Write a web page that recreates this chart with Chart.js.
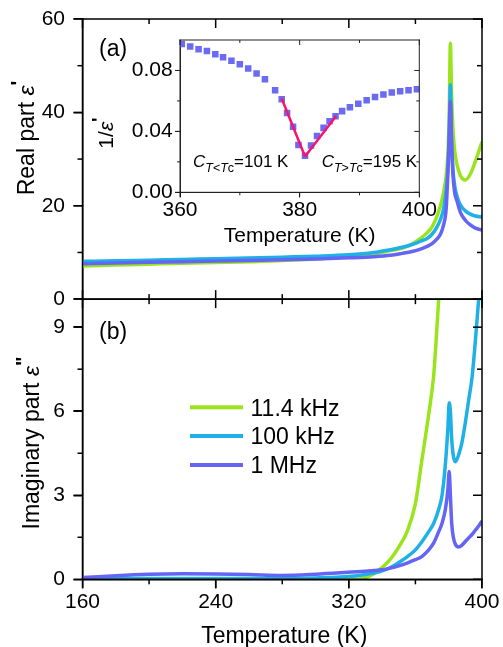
<!DOCTYPE html>
<html>
<head>
<meta charset="utf-8">
<script src="https://cdn.jsdelivr.net/npm/chart.js@4.4.1/dist/chart.umd.min.js"></script>
<style>
  html, body { margin: 0; padding: 0; background: #fff; }
  #wrap { position: relative; width: 503px; height: 647px; }
  #main { position: absolute; left: 0; top: 0; }
  #inset { position: absolute; left: 80px; top: 30px; }
</style>
</head>
<body>
<div id="wrap">
  <canvas id="main" width="503" height="647"></canvas>
  <canvas id="inset" width="360" height="225"></canvas>
</div>
<script>
const FONT = '"Liberation Sans", Arial, sans-serif';

// series
const seriesLabels = ["11.4 kHz", "100 kHz", "1 MHz"];
const seriesColors = ["#9ae41e", "#1eb0e6", "#6464f5"];

// real part (top panel)
const tempReal = [160, 180, 200, 220, 240, 260, 280, 300, 320, 335, 345, 352, 358, 363, 367, 370,
  373, 375, 377, 378.5, 379.5, 380.3, 381, 381.7, 382.5, 383.5, 385, 387, 390, 393, 396, 400];
const realLow = [7.1, 7.3, 7.5, 7.7, 7.85, 8.0, 8.3, 8.6, 9.2, 9.7, 10.4, 10.9, 11.8, 13.0, 14.2, 15.5,
  17.8, 20.0, 23.0, 26.5, 31.0, 40.0, 54.8, 44.0, 37.0, 32.0, 28.8, 26.5, 25.5, 26.8, 29.5, 33.7];
const realMid = [8.1, 8.2, 8.35, 8.5, 8.65, 8.8, 9.0, 9.2, 9.5, 10.0, 10.6, 11.1, 11.7, 12.4, 13.0, 13.9,
  15.5, 17.0, 19.5, 23.5, 28.0, 35.0, 45.9, 34.0, 28.0, 24.5, 22.0, 20.2, 18.9, 18.2, 17.8, 17.6];
const realHigh = [7.6, 7.75, 7.9, 8.0, 8.15, 8.3, 8.45, 8.6, 8.85, 9.1, 9.4, 9.8, 10.2, 10.7, 11.3, 11.9,
  12.9, 13.9, 16.0, 19.5, 27.0, 35.0, 42.3, 34.0, 27.0, 23.0, 21.0, 18.6, 16.9, 15.9, 15.2, 14.8];

// imaginary part (bottom panel)
const tempImag = [160, 180, 200, 220, 240, 260, 280, 300, 315, 325, 330, 335, 340, 345, 350, 355,
  360, 364, 368, 371, 374, 376, 378, 379.5, 380.3, 381, 381.8, 382.8, 384, 386, 388, 390,
  392, 394, 396, 398, 400];
const imagLow = [0, 0, 0, 0, 0, 0, 0, 0, 0, 0, 0.06, 0.2, 0.42, 0.72, 1.15, 1.7,
  2.7, 4.3, 5.9, 7.3, 10.0, null, null, null, null, null, null, null, null, null, null, null,
  null, null, null, null, null];
const imagMid = [0.02, 0.03, 0.03, 0.03, 0.03, 0.03, 0.03, 0.05, 0.08, 0.13, 0.17, 0.22, 0.3, 0.42, 0.6, 0.8,
  1.05, 1.35, 1.7, 2.0, 2.5, 3.0, 4.1, 5.4, 6.3, 6.0, 5.0, 4.4, 4.2, 4.45, 4.9, 5.6,
  6.4, 7.2, 8.5, 10.0, null];
const imagHigh = [0.06, 0.13, 0.18, 0.2, 0.19, 0.17, 0.14, 0.18, 0.23, 0.27, 0.29, 0.31, 0.34, 0.4, 0.48, 0.58,
  0.7, 0.82, 1.05, 1.3, 1.7, 2.0, 2.5, 3.2, 3.85, 3.0, 2.0, 1.5, 1.25, 1.15, 1.22, 1.35,
  1.48, 1.6, 1.75, 1.9, 2.08];

// inset: 1/eps' of 1 MHz and Curie-Weiss fits
const insetTemps = [360.3, 361.7, 363.1, 364.5, 365.9, 367.2, 368.6, 370.0, 371.4, 372.8, 374.2, 375.9,
  377.0, 377.9, 378.9, 379.8, 380.9, 381.9, 382.9, 384.0, 385.0, 386.0, 387.1, 388.4, 389.8, 391.2,
  392.6, 394.0, 395.4, 396.8, 398.2, 399.6];
const insetInv = [0.0973, 0.0957, 0.0940, 0.0927, 0.0907, 0.0886, 0.0863, 0.0840, 0.0813, 0.0780, 0.0743, 0.0670,
  0.0611, 0.0520, 0.0430, 0.0310, 0.0240, 0.0308, 0.0370, 0.0423, 0.0467, 0.0500, 0.0533, 0.0558, 0.0582, 0.0604,
  0.0626, 0.0642, 0.0655, 0.0664, 0.0670, 0.0677];
const fitBelowT = [377.0, 380.9];
const fitBelowV = [0.0616, 0.0235];
const fitAboveT = [380.9, 386.1];
const fitAboveV = [0.0235, 0.0501];

// ticks
const xTicks = [160, 240, 320, 400];
const xMinor = [200, 280, 360];
const yTopTicks = [0, 20, 40, 60];
const yTopMinor = [10, 30, 50];
const yBotTicks = [0, 3, 6, 9];
const yBotMinor = [1.5, 4.5, 7.5];
const insetXTicks = [360, 380, 400];
const insetXMinor = [370, 390];
const insetYTicks = [0, 0.04, 0.08];
const insetYMinor = [0.02, 0.06];

function pts(tx, vy) {
  return tx.map((t, i) => ({ x: t, y: vy[i] })).filter(d => d.y !== null);
}

function fixedTicks(values) {
  return scale => { scale.ticks = values.map(v => ({ value: v })); };
}

// fixed axis size, no extra label overflow padding
function fixSize(w, h) {
  return s => {
    if (w !== null) s.width = w;
    if (h !== null) s.height = h;
    s.paddingTop = 0; s.paddingBottom = 0; s.paddingLeft = 0; s.paddingRight = 0;
  };
}

// segs: [text, font, dy]
function drawRich(ctx, segs, x, y, rotated) {
  let total = 0;
  segs.forEach(s => { ctx.font = s[1]; total += ctx.measureText(s[0]).width; });
  ctx.save();
  ctx.translate(x, y);
  if (rotated) ctx.rotate(-Math.PI / 2);
  let cx = rotated ? -total / 2 : 0;
  ctx.textBaseline = 'alphabetic';
  ctx.textAlign = 'left';
  ctx.fillStyle = '#000';
  segs.forEach(s => {
    ctx.font = s[1];
    ctx.fillText(s[0], cx, s[2] || 0);
    cx += ctx.measureText(s[0]).width;
  });
  ctx.restore();
}

// box around one panel with inward ticks on top/right, outward on left (and bottom if asked)
function drawPanel(ctx, xScale, yScale, xs, xm, ys, ym, big, small, lw, bottomOut) {
  const left = xScale.left, right = xScale.right, top = yScale.top, bottom = yScale.bottom;
  const h = lw / 2;
  ctx.fillRect(left - h, top - h, right - left + lw, lw);
  ctx.fillRect(left - h, bottom - h, right - left + lw, lw);
  ctx.fillRect(left - h, top - h, lw, bottom - top + lw);
  ctx.fillRect(right - h, top - h, lw, bottom - top + lw);
  xs.concat(xm).forEach((v, i) => {
    const len = i < xs.length ? big : small;
    const px = xScale.getPixelForValue(v);
    ctx.fillRect(px - h, top, lw, len);
    if (bottomOut) ctx.fillRect(px - h, bottom, lw, len);
    else ctx.fillRect(px - h, bottom - len, lw, len);
  });
  ys.concat(ym).forEach((v, i) => {
    const len = i < ys.length ? big : small;
    const py = yScale.getPixelForValue(v);
    ctx.fillRect(left - len, py - h, len, lw);
    ctx.fillRect(right - len, py - h, len, lw);
  });
}

const tickFont = { family: FONT, size: 21 };
const axisGrid = (len, lw) => ({ display: true, drawOnChartArea: false, drawTicks: true, tickLength: len, color: '#000', lineWidth: lw });

const mainPlugin = {
  id: 'mainDecor',
  afterDraw(chart) {
    const ctx = chart.ctx;
    const sx = chart.scales.x, st = chart.scales.yTop, sb = chart.scales.yBot;
    ctx.save();
    ctx.fillStyle = '#000';
    drawPanel(ctx, sx, st, xTicks, xMinor, yTopTicks, yTopMinor, 9, 5, 1.5, false);
    drawPanel(ctx, sx, sb, xTicks, xMinor, yBotTicks, yBotMinor, 9, 5, 1.5, true);
    ctx.restore();
    const f = '23px ' + FONT, fi = 'italic 23px ' + FONT, fb = 'bold 20px ' + FONT;
    drawRich(ctx, [['Real part ', f], ['\u03b5', fi], ['\'', fb, -9]], 33.5, 138, true);
    drawRich(ctx, [['Imaginary part ', f], ['\u03b5', fi], ['"', fb, -9]], 38.5, 443, true);
    drawRich(ctx, [['(a)', f]], 99, 56);
    drawRich(ctx, [['(b)', f]], 99, 338.5);
    ctx.save();
    ctx.font = f;
    ctx.fillStyle = '#000';
    ctx.textAlign = 'center';
    ctx.textBaseline = 'alphabetic';
    ctx.fillText('Temperature (K)', (sx.left + sx.right) / 2 + 2, 642.5);
    // legend
    const ly = [407.3, 436, 465];
    ctx.textAlign = 'left';
    chart.data.datasets.slice(0, 3).forEach((ds, i) => {
      ctx.fillStyle = ds.borderColor;
      ctx.fillRect(190, ly[i] - 2, 53, 4);
      ctx.fillStyle = '#000';
      ctx.fillText(ds.label, 250.5, ly[i] + 8.2);
    });
    ctx.restore();
  }
};

new Chart(document.getElementById('main'), {
  type: 'line',
  data: {
    datasets: [
      { label: seriesLabels[0], data: pts(tempReal, realLow), yAxisID: 'yTop', borderColor: seriesColors[0], order: 3 },
      { label: seriesLabels[1], data: pts(tempReal, realMid), yAxisID: 'yTop', borderColor: seriesColors[1], order: 2 },
      { label: seriesLabels[2], data: pts(tempReal, realHigh), yAxisID: 'yTop', borderColor: seriesColors[2], order: 1 },
      { label: seriesLabels[0], data: pts(tempImag, imagLow), yAxisID: 'yBot', borderColor: seriesColors[0], order: 3 },
      { label: seriesLabels[1], data: pts(tempImag, imagMid), yAxisID: 'yBot', borderColor: seriesColors[1], order: 2 },
      { label: seriesLabels[2], data: pts(tempImag, imagHigh), yAxisID: 'yBot', borderColor: seriesColors[2], order: 1 }
    ]
  },
  options: {
    responsive: false,
    animation: false,
    layout: { padding: { top: 19, right: 21, left: 0, bottom: 0 } },
    elements: {
      point: { radius: 0 },
      line: { borderWidth: 3.5, cubicInterpolationMode: 'monotone', fill: false }
    },
    plugins: { legend: { display: false }, tooltip: { enabled: false } },
    scales: {
      x: {
        type: 'linear', min: 160, max: 400,
        afterBuildTicks: fixedTicks(xTicks),
        afterFit: fixSize(null, 67.7),
        grid: axisGrid(9, 1.5),
        border: { display: true, color: '#000', width: 1.5 },
        ticks: { font: tickFont, color: '#000', padding: 1, maxRotation: 0, callback: v => String(v) }
      },
      yBot: {
        type: 'linear', position: 'left', stack: 'panels', stackWeight: 1, min: 0, max: 10,
        afterBuildTicks: fixedTicks(yBotTicks),
        afterFit: fixSize(82.5, null),
        grid: axisGrid(9, 1.5),
        border: { display: true, color: '#000', width: 1.5 },
        ticks: { font: tickFont, color: '#000', padding: 8.5, callback: v => String(v) }
      },
      yTop: {
        type: 'linear', position: 'left', stack: 'panels', stackWeight: 1, min: 0, max: 60,
        afterBuildTicks: fixedTicks(yTopTicks),
        afterFit: fixSize(82.5, null),
        grid: axisGrid(9, 1.5),
        border: { display: true, color: '#000', width: 1.5 },
        ticks: { font: tickFont, color: '#000', padding: 8.5, callback: v => String(v) }
      }
    }
  },
  plugins: [mainPlugin]
});

const insetPlugin = {
  id: 'insetDecor',
  afterDraw(chart) {
    const ctx = chart.ctx;
    const sx = chart.scales.x, sy = chart.scales.y;
    ctx.save();
    ctx.fillStyle = '#222';
    drawPanel(ctx, sx, sy, insetXTicks, insetXMinor, insetYTicks, insetYMinor, 5, 3, 1, true);
    ctx.restore();
    const f = '21px ' + FONT, fi = 'italic 21px ' + FONT, fb = 'bold 19px ' + FONT;
    drawRich(ctx, [['1/', f], ['\u03b5', fi], ['\'', fb, -8]], 33, 103, true);
    ctx.save();
    ctx.font = f;
    ctx.fillStyle = '#000';
    ctx.textAlign = 'center';
    ctx.textBaseline = 'alphabetic';
    ctx.fillText('Temperature (K)', (sx.left + sx.right) / 2, 211.7);
    ctx.restore();
    const c = 'italic 17px ' + FONT, n = '17px ' + FONT, si = 'italic 12.5px ' + FONT, sn = '12.5px ' + FONT;
    drawRich(ctx, [['C', c], ['T', si, 4.3], ['<', sn, 4.3], ['T', si, 4.3], ['c', sn, 4.3], ['=101 K', n]], 113, 137.3);
    drawRich(ctx, [['C', c], ['T', si, 4.3], ['>', sn, 4.3], ['T', si, 4.3], ['c', sn, 4.3], ['=195 K', n]], 241.7, 137.3);
  }
};

new Chart(document.getElementById('inset'), {
  type: 'line',
  data: {
    datasets: [
      { label: 'fit T<Tc', data: pts(fitBelowT, fitBelowV), borderColor: '#f5156e', borderWidth: 2.5, pointRadius: 0, order: 0 },
      { label: 'fit T>Tc', data: pts(fitAboveT, fitAboveV), borderColor: '#f5156e', borderWidth: 2.5, pointRadius: 0, order: 0 },
      { label: '1/eps', data: pts(insetTemps, insetInv), showLine: false, pointStyle: 'rect', pointRadius: 4.6,
        pointBackgroundColor: '#6a6af2', pointBorderWidth: 0, order: 1 }
    ]
  },
  options: {
    responsive: false,
    animation: false,
    layout: { padding: { top: 10, right: 20.7, left: 0, bottom: 0 } },
    plugins: { legend: { display: false }, tooltip: { enabled: false } },
    scales: {
      x: {
        type: 'linear', min: 360, max: 400,
        afterBuildTicks: fixedTicks(insetXTicks),
        afterFit: fixSize(null, 62.7),
        grid: axisGrid(5, 1),
        border: { display: true, color: '#222', width: 1 },
        ticks: { font: tickFont, color: '#000', padding: 0, maxRotation: 0, callback: v => String(v) }
      },
      y: {
        type: 'linear', min: 0, max: 0.1,
        afterBuildTicks: fixedTicks(insetYTicks),
        afterFit: fixSize(100, null),
        grid: axisGrid(5, 1),
        border: { display: true, color: '#222', width: 1 },
        ticks: { font: tickFont, color: '#000', padding: 2.3, callback: v => v.toFixed(2) }
      }
    }
  },
  plugins: [insetPlugin]
});
</script>
</body>
</html>
